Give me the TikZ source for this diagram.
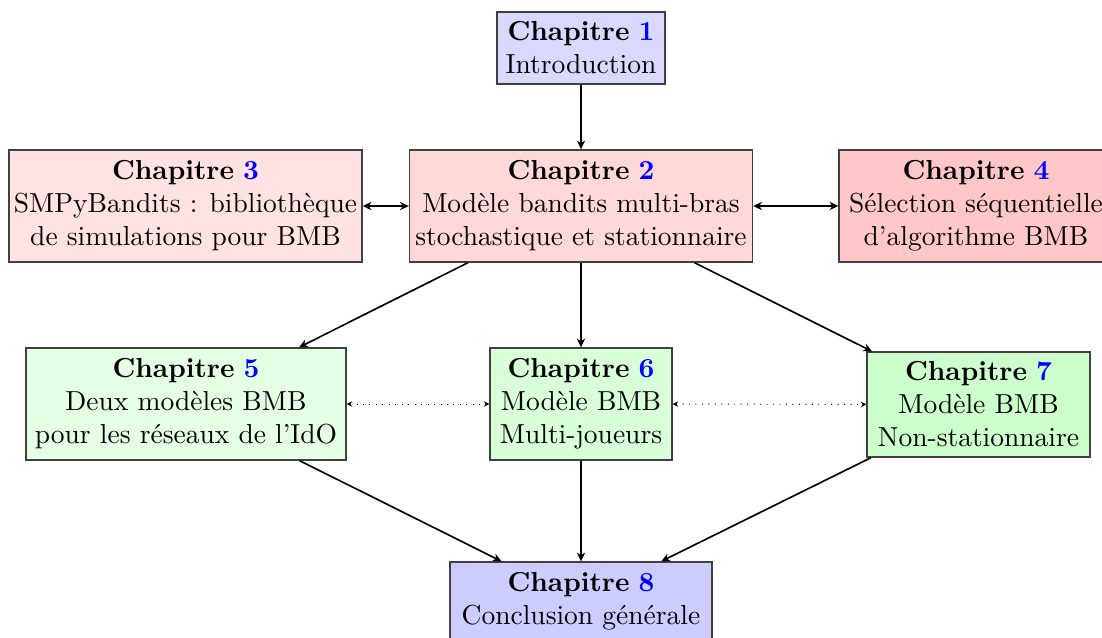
\documentclass[tikz,border=0pt]{standalone}
\usetikzlibrary{arrows.meta}
\begin{document}
\begin{tikzpicture}[x=0.3636pt,y=-0.3636pt,
  box/.style={draw=black!75,line width=0.5pt,inner sep=0pt,align=center,
    font=\fontsize{10}{12}\selectfont},
  arr/.style={line width=0.6pt,-{Stealth[length=3.2pt,width=3pt]}},
  darr/.style={line width=0.6pt,{Stealth[length=3.2pt,width=3pt]}-{Stealth[length=3.2pt,width=3pt]}},
  dotarr/.style={line width=0.35pt,dotted,{Stealth[length=2pt,width=2pt]}-{Stealth[length=2pt,width=2pt]}}]
\newcommand{\chap}[1]{\textbf{Chapitre} \textcolor{blue}{\textbf{#1}}}
\useasboundingbox (0,0) rectangle (1102,637);
\clip (0,0) rectangle (1102,637);
\node[box,fill=blue!15,minimum width=168*0.3636pt,minimum height=72*0.3636pt] (c1) at (581,48) {\chap{1}\\Introduction};
\node[box,fill=red!15,minimum width=343*0.3636pt,minimum height=112*0.3636pt] (c2) at (581,206) {\chap{2}\\Modèle bandits multi-bras\\stochastique et stationnaire};
\node[box,fill=red!11,minimum width=353*0.3636pt,minimum height=112*0.3636pt] (c3) at (185.5,206) {\chap{3}\\SMPyBandits : bibliothèque\\de simulations pour BMB};
\node[box,fill=red!22,minimum width=274*0.3636pt,minimum height=112*0.3636pt] (c4) at (976,206) {\chap{4}\\Sélection séquentielle\\d'algorithme BMB};
\node[box,fill=green!10,minimum width=320*0.3636pt,minimum height=112*0.3636pt] (c5) at (186,404) {\chap{5}\\Deux modèles BMB\\pour les réseaux de l'IdO};
\node[box,fill=green!15,minimum width=182*0.3636pt,minimum height=112*0.3636pt] (c6) at (581,404) {\chap{6}\\Modèle BMB\\Multi-joueurs};
\node[box,fill=green!20,minimum width=223*0.3636pt,minimum height=105*0.3636pt] (c7) at (978.5,404.5) {\chap{7}\\Modèle BMB\\Non-stationnaire};
\node[box,fill=blue!20,minimum width=262*0.3636pt,minimum height=78*0.3636pt] (c8) at (581,601) {\chap{8}\\Conclusion générale};
\draw[arr] (c1) -- (c2);
\draw[darr] (c3) -- (c2);
\draw[darr] (c2) -- (c4);
\draw[arr] (c2) -- (c5);
\draw[arr] (c2) -- (c6);
\draw[arr] (c2) -- (c7);
\draw[dotarr] (c5) -- (c6);
\draw[dotarr] (c6) -- (c7);
\draw[arr] (c5) -- (c8);
\draw[arr] (c6) -- (c8);
\draw[arr] (c7) -- (c8);
\end{tikzpicture}
\end{document}
